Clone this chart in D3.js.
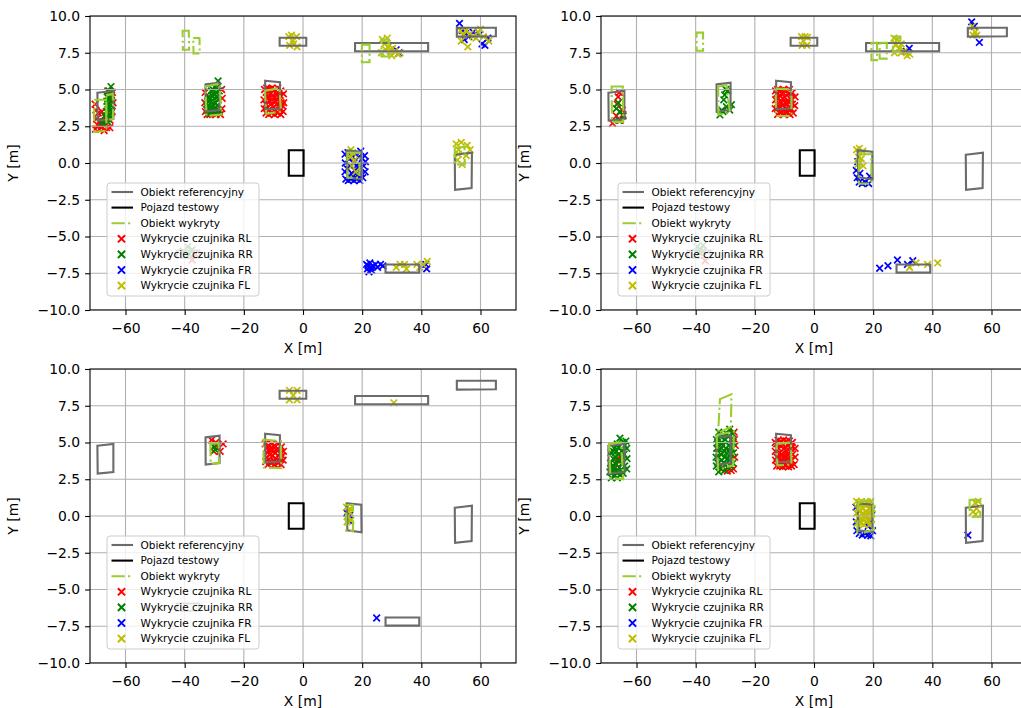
<!DOCTYPE html>
<html>
<head>
<meta charset="utf-8">
<script src="https://cdn.jsdelivr.net/npm/d3@7"></script>
<style>
  body { margin: 0; background: #fff; }
  svg { font-family: "DejaVu Sans", sans-serif; display: block; }
</style>
</head>
<body>
<svg id="chart" width="1021" height="708"></svg>
<script>
// axis ticks
const xTicks = [-60, -40, -20, 0, 20, 40, 60]
const yTicks = [-10, -7.5, -5, -2.5, 0, 2.5, 5, 7.5, 10]
const xDomain = [-72, 72]
const yDomain = [-10, 10]

const sensors = ['RL', 'RR', 'FR', 'FL']
const sensorColors = ['#ff0000', '#008000', '#0000ff', '#bfbf00']

// reference objects (corners in metres)
const refObjects = [
  [[-69.5, 4.78], [-64.1, 4.9], [-64.1, 2.99], [-69.4, 2.88]],
  [[-32.95, 5.35], [-28.2, 5.46], [-28.2, 3.6], [-32.9, 3.5]],
  [[-12.8, 5.6], [-7.8, 5.5], [-7.8, 3.7], [-12.7, 3.65]],
  [[-7.9, 8.52], [1.1, 8.52], [1.1, 7.98], [-7.9, 7.98]],
  [[17.6, 8.16], [42.3, 8.16], [42.3, 7.6], [17.6, 7.6]],
  [[52.0, 9.2], [65.2, 9.2], [65.2, 8.62], [52.0, 8.6]],
  [[14.75, 0.86], [19.7, 0.77], [19.8, -1.11], [15.0, -0.98]],
  [[51.3, 0.56], [57.1, 0.7], [57.0, -1.7], [51.4, -1.82]],
  [[27.9, -6.9], [39.3, -6.9], [39.3, -7.46], [27.9, -7.46]],
  [[-42.7, -5.95], [-35.0, -5.95], [-35.0, -6.45], [-42.7, -6.45]]
]
const vehicle = [[-4.8, 0.87], [0.2, 0.87], [0.2, -0.87], [-4.8, -0.87]]

// which reference objects are visible in each panel
const refsTL = [0, 1, 2, 3, 4, 5, 6, 7, 8, 9]
const refsTR = [0, 1, 2, 3, 4, 5, 6, 7, 8, 9]
const refsBL = [0, 1, 2, 3, 4, 5, 6, 7, 8, 9]
const refsBR = [0, 1, 2, 6, 7]

// detected objects
const detectedTL = [
  [[-70.6, 4.3], [-66.6, 4.3], [-66.4, 2.2], [-70.6, 2.1]],
  [[-66.5, 4.6], [-64.3, 4.7], [-64.2, 3.0], [-66.4, 2.9]],
  [[-33.0, 5.2], [-28.2, 5.4], [-27.6, 3.3], [-32.6, 3.2]],
  [[-12.9, 4.9], [-8.0, 5.1], [-7.4, 3.5], [-12.4, 3.35]],
  [[-40.7, 9.0], [-38.6, 9.0], [-38.5, 7.7], [-40.6, 7.7]],
  [[-37.1, 8.5], [-35.0, 8.5], [-34.9, 7.45], [-37.0, 7.45]],
  [[19.9, 8.05], [22.5, 8.05], [22.5, 6.85], [19.9, 6.85]],
  [[26.5, 8.4], [29.0, 8.4], [29.0, 7.25], [26.5, 7.25]],
  [[15.0, 0.7], [19.1, 0.7], [19.1, -1.0], [15.0, -1.0]],
  [[51.3, 1.0], [54.6, 1.1], [54.7, -0.1], [51.3, -0.1]]
]
const detectedTR = [
  [[-68.4, 5.2], [-64.6, 5.2], [-64.5, 2.8], [-68.3, 2.8]],
  [[-32.4, 5.2], [-29.6, 5.3], [-28.4, 3.4], [-32.3, 3.3]],
  [[-12.9, 5.06], [-7.6, 5.0], [-7.6, 3.2], [-12.9, 3.2]],
  [[-39.7, 8.87], [-37.5, 8.87], [-37.5, 7.64], [-39.7, 7.64]],
  [[19.4, 8.18], [21.3, 8.18], [21.3, 7.0], [19.4, 7.0]],
  [[22.2, 8.18], [24.6, 8.18], [24.6, 7.1], [22.2, 7.1]],
  [[26.7, 8.6], [29.2, 8.6], [29.2, 7.6], [26.7, 7.6]],
  [[15.2, 0.6], [19.4, 0.6], [19.4, -1.4], [15.2, -1.4]]
]
const detectedBL = [
  [[-31.3, 4.9], [-28.5, 4.95], [-28.4, 3.6], [-31.2, 3.55]],
  [[-13.4, 5.2], [-7.5, 5.1], [-7.3, 3.25], [-13.3, 3.3]],
  [[14.6, 0.75], [16.9, 0.75], [16.9, -1.0], [14.6, -1.0]]
]
const detectedBR = [
  [[-69.3, 4.9], [-65.2, 5.0], [-64.5, 2.5], [-68.8, 2.6]],
  [[-31.8, 7.95], [-27.9, 8.28], [-28.1, 6.05], [-32.4, 5.65]],
  [[-32.9, 5.51], [-27.1, 5.74], [-27.3, 3.47], [-32.4, 3.13]],
  [[-12.6, 4.9], [-7.8, 5.0], [-7.6, 3.5], [-12.4, 3.45]],
  [[14.9, 0.86], [19.9, 1.2], [20.3, -0.9], [14.6, -1.3]],
  [[52.6, 1.1], [56.2, 1.1], [56.2, -0.05], [52.6, -0.05]]
]

// sensor detections per panel
const hitsTL = {
  RL: [[-70.2, 2.3], [-69.5, 2.6], [-68.8, 2.3], [-68, 2.5], [-67.2, 2.2], [-66.4, 2.4], [-65.3, 2.4],
    [-69.8, 3.0], [-68.5, 2.9], [-67.5, 2.8], [-66.8, 3.1], [-70.0, 3.6], [-69.2, 3.4], [-65.5, 3.3],
    [-64.5, 3.5], [-64.2, 4.1], [-65.0, 4.4], [-64.4, 4.8], [-66.0, 4.9], [-65.2, 2.9], [-70.3, 4.0], [-68.0, 3.5],
    [-33.2, 4.1], [-33.0, 3.5], [-32.4, 3.3], [-31.5, 3.3], [-30.5, 3.4], [-29.4, 3.3], [-28.3, 3.5],
    [-27.4, 3.7], [-27.3, 4.4], [-27.5, 5.0], [-33.1, 4.8], [-27.9, 3.3],
    [-13.0, 5.0], [-12.3, 5.1], [-11.4, 5.0], [-10.5, 5.1], [-9.5, 5.0], [-8.5, 5.1], [-7.5, 4.9], [-6.6, 4.7],
    [-6.5, 4.1], [-6.7, 3.5], [-7.5, 3.3], [-8.6, 3.4], [-9.6, 3.3], [-10.6, 3.4], [-11.6, 3.3], [-12.5, 3.4],
    [-13.1, 3.7], [-13.2, 4.3], [-12.2, 4.5], [-11.2, 4.2], [-10.2, 4.6], [-9.2, 4.2], [-8.2, 4.5], [-7.4, 4.1],
    [-12.0, 3.8], [-10.0, 3.8], [-8.0, 3.8], [-11.0, 4.7], [-9.0, 4.7],
    [-12.6, 4.0], [-11.6, 3.6], [-10.8, 4.0], [-9.8, 3.6], [-8.8, 4.0], [-7.8, 3.6], [-12.4, 4.8], [-11.5, 4.45],
    [-10.5, 4.3], [-9.6, 4.45], [-8.6, 4.3], [-7.7, 4.6], [-11.8, 5.05], [-7.0, 3.9],
    [-37.5, -6.6], [-36.5, -6.2]],
  RR: [[-66.0, 2.8], [-65.5, 3.2], [-66.5, 3.5], [-65.2, 3.6], [-66.0, 4.0], [-65.0, 4.2], [-66.2, 4.5],
    [-65.5, 4.7], [-64.9, 5.2], [-65.8, 3.0], [-67.0, 3.2], [-67.5, 2.8], [-64.7, 4.6], [-64.6, 3.9], [-68.2, 2.7],
    [-65.8, 3.8], [-65.3, 4.4], [-66.3, 4.2], [-64.9, 3.4], [-65.6, 4.9],
    [-32.4, 3.6], [-31.8, 3.9], [-31.2, 3.6], [-30.5, 4.0], [-29.8, 3.7], [-29.0, 3.9], [-28.4, 3.6], [-31.5, 4.3],
    [-30.8, 4.6], [-30.0, 4.4], [-29.3, 4.8], [-28.6, 4.3], [-29.8, 5.2], [-28.7, 5.58], [-32.0, 4.5], [-30.5, 5.0],
    [-31.3, 3.4], [-29.6, 3.4], [-28.3, 4.9], [-32.6, 4.0],
    [-31.8, 3.4], [-30.8, 3.8], [-29.6, 4.1], [-28.8, 3.5], [-31.0, 4.9], [-29.0, 4.5], [-32.2, 4.2], [-30.3, 4.7], [-29.4, 5.1],
    [-40.5, -6.0], [-39, -5.7], [-38.5, -6.2], [-37.5, -5.9]],
  FR: [[14.2, 0.6], [14.3, 0.0], [14.2, -0.6], [14.5, -1.1], [15.3, -1.2], [16.2, -1.1], [17.2, -1.2], [18.2, -1.1],
    [19.2, -1.2], [20.2, -1.0], [21.0, -0.6], [21.1, 0.1], [20.8, 0.5], [20.0, 0.3], [16.5, -0.7], [17.5, -0.5],
    [18.5, -0.8], [16.0, -0.2], [19.0, -0.3], [17.2, 0.0], [15.2, 0.7], [19.5, 0.8],
    [15.0, -0.4], [15.6, -0.9], [17.0, -0.9], [18.0, -0.2], [19.6, -0.7], [20.5, -0.2], [15.5, 0.3], [18.8, 0.4], [16.8, 0.4],
    [21.5, -6.9], [21.8, -7.2], [22.3, -7.4], [22.6, -6.8], [23.0, -7.1], [23.6, -7.0], [24.5, -6.9], [25.2, -7.1],
    [26.2, -6.9], [27.0, -7.0], [22.0, -7.0], [23.2, -7.3], [41.5, -6.9], [41.8, -7.2],
    [52.9, 9.5], [54.0, 9.0], [55.0, 8.8], [56.0, 8.6], [54.5, 8.4], [60.5, 8.1], [61.5, 8.0], [62.5, 8.5],
    [59.5, 8.7], [57.5, 8.9], [31.5, 7.7], [32.5, 7.5]],
  FL: [[-4.8, 8.6], [-3.9, 8.7], [-2.2, 8.6], [-3.4, 8.3], [-4.5, 8.0], [-2.0, 7.9], [-3.2, 8.1],
    [26.8, 8.4], [27.5, 8.1], [28.0, 7.7], [28.8, 7.9], [29.5, 7.6], [30.3, 7.8], [31.0, 7.6], [32.0, 7.4],
    [32.8, 7.5], [26.5, 7.5], [28.5, 8.5], [30.0, 7.3],
    [53.2, 9.0], [54.2, 8.7], [55.0, 9.0], [56.5, 8.8], [57.5, 8.6], [58.5, 8.5], [59.2, 8.9], [55.7, 7.9],
    [62.8, 8.3], [61.0, 8.6], [53.5, 8.3], [60.0, 9.1],
    [51.8, 1.3], [52.6, 0.9], [53.5, 1.4], [55.5, 1.2], [56.5, 0.9], [52.2, 0.2], [53.8, -0.1], [52.5, 0.6], [55.2, 0.5],
    [16.0, 0.4], [16.8, 0.7], [17.5, 0.2], [16.5, -0.2], [17.8, -0.6], [16.2, 0.9],
    [31.5, -7.1], [32.8, -6.9], [34.3, -6.9], [35.0, -7.2], [38.5, -6.9], [39.5, -7.1], [42.0, -6.7], [40.5, -6.9]]
}
const hitsTR = {
  RL: [[-68.1, 2.7], [-64.8, 3.6], [-66.2, 4.5], [-65.8, 4.8], [-64.6, 3.3], [-66.8, 3.2], [-65.5, 2.9], [-66.5, 4.0],
    [-13.0, 4.9], [-12.3, 5.0], [-11.3, 4.9], [-10.3, 5.0], [-9.3, 4.9], [-8.3, 5.0], [-7.3, 4.8], [-6.4, 4.5],
    [-6.5, 3.9], [-7.0, 3.4], [-8.1, 3.3], [-9.2, 3.4], [-10.2, 3.3], [-11.3, 3.4], [-12.3, 3.3], [-13.1, 3.7],
    [-13.0, 4.3], [-12.0, 4.4], [-11.0, 4.1], [-10.0, 4.5], [-9.0, 4.0], [-8.0, 4.4], [-7.3, 4.0], [-11.5, 3.8],
    [-9.5, 3.7], [-8.5, 3.6], [-10.5, 4.8], [-12.3, 3.7], [-9.8, 4.1],
    [-12.5, 4.0], [-11.5, 3.5], [-10.6, 3.9], [-9.7, 3.5], [-8.8, 4.2], [-7.8, 3.7], [-12.6, 4.7], [-11.6, 4.6],
    [-10.6, 4.4], [-8.6, 4.7], [-7.8, 4.3],
    [-36.8, -6.65], [-37.5, -6.0]],
  RR: [[-66.2, 4.1], [-64.5, 3.2], [-66.8, 3.7], [-65.6, 3.5], [-66.0, 2.9],
    [-30.2, 4.63], [-29.6, 3.83], [-27.9, 3.97], [-31.8, 3.27], [-30.8, 3.5], [-29.2, 4.9], [-30.5, 4.3],
    [-28.5, 3.6], [-31.2, 3.6], [-29.8, 5.0],
    [-39.5, -5.7], [-38.5, -5.9], [-37.5, -5.6], [-38.8, -6.1]],
  FR: [[14.3, -0.5], [14.6, -1.0], [15.3, -1.3], [16.3, -1.4], [17.3, -1.3], [18.5, -1.4], [18.8, -0.9], [15.5, -0.7], [14.8, 0.1],
    [22.2, -7.16], [25.0, -6.99], [28.2, -6.6], [33.4, -6.65], [31.6, -6.9],
    [53.3, 9.6], [55.9, 8.2], [54.2, 9.3], [31.2, 7.6], [32.2, 7.8]],
  FL: [[-4.2, 8.6], [-3.0, 8.6], [-3.6, 8.3], [-4.0, 8.0], [-2.4, 8.0], [-2.2, 8.55],
    [27.0, 8.5], [27.6, 8.0], [28.2, 8.4], [28.9, 7.8], [29.5, 7.5], [30.5, 7.6], [31.5, 7.3], [32.4, 7.4], [27.2, 7.5], [29.5, 8.1],
    [53.5, 9.3], [54.5, 8.9], [55.0, 8.7], [53.8, 8.7],
    [14.4, 0.9], [15.3, 1.0], [16.5, 0.8], [16.0, 0.3], [15.5, 0.0], [16.6, -0.2], [15.1, 0.4], [14.8, -0.1],
    [32.3, -7.1], [34.5, -6.8], [38.4, -6.9], [41.8, -6.8]]
}
const hitsBL = {
  RL: [[-30.9, 5.17], [-29.5, 5.0], [-27.0, 4.9], [-28.0, 4.4], [-30.2, 4.4], [-29.0, 4.8],
    [-12.8, 4.9], [-11.7, 4.8], [-10.6, 4.9], [-9.6, 4.8], [-8.4, 4.9], [-7.3, 4.7], [-6.6, 4.4], [-6.7, 3.8],
    [-7.4, 3.5], [-8.4, 3.6], [-9.6, 3.5], [-10.7, 3.6], [-11.8, 3.5], [-12.6, 3.7], [-11.0, 4.2], [-9.5, 4.3],
    [-8.4, 4.1], [-10.0, 3.8], [-12.0, 4.3], [-7.0, 4.1], [-9.0, 4.5],
    [-12.3, 4.0], [-11.3, 3.7], [-10.3, 4.1], [-9.2, 3.9], [-8.0, 3.8], [-12.2, 4.6], [-11.3, 4.55], [-10.2, 4.55],
    [-8.2, 4.5], [-7.5, 4.3]],
  RR: [[-30.0, 4.7], [-29.6, 4.5]],
  FR: [[15.8, 0.06], [14.8, 0.2], [15.4, -0.3], [24.9, -6.94]],
  FL: [[-4.6, 8.55], [-2.0, 8.55], [-3.3, 8.2], [-4.6, 7.9], [-2.0, 7.9], [30.7, 7.7],
    [14.7, 0.6], [15.8, 0.5], [15.2, 0.0], [16.2, -0.3], [14.9, -0.4], [15.6, 0.3]]
}
const hitsBR = {
  RL: [[-66.5, 3.8], [-67.5, 3.2], [-65.5, 4.1],
    [-27.0, 5.7], [-26.6, 4.8], [-26.8, 4.0], [-27.2, 3.2], [-28.0, 3.1], [-29.3, 3.05], [-32.6, 4.6], [-31.5, 3.2], [-26.9, 5.2],
    [-13.1, 5.0], [-12.2, 5.15], [-11.2, 5.1], [-10.3, 5.17], [-9.3, 5.1], [-8.3, 5.1], [-7.3, 5.0], [-6.4, 4.6],
    [-6.4, 4.0], [-6.7, 3.5], [-7.6, 3.4], [-8.6, 3.35], [-9.6, 3.4], [-10.6, 3.35], [-11.6, 3.4], [-12.6, 3.4],
    [-13.0, 3.8], [-13.1, 4.4], [-12.0, 4.6], [-11.0, 4.2], [-10.0, 4.6], [-9.0, 4.2], [-8.0, 4.6], [-7.2, 4.2],
    [-11.8, 3.9], [-9.5, 3.8], [-8.0, 3.8], [-10.5, 4.0], [-8.7, 4.8],
    [-12.5, 4.0], [-11.4, 3.7], [-10.4, 3.7], [-9.4, 4.0], [-8.4, 3.6], [-7.5, 3.8], [-12.6, 4.9], [-11.5, 4.8],
    [-10.4, 4.85], [-9.6, 4.7], [-7.5, 4.7], [-11.6, 4.3], [-9.3, 4.4]],
  RR: [[-69.0, 3.0], [-68.5, 2.6], [-67.5, 2.7], [-66.5, 2.6], [-65.5, 2.8], [-64.5, 2.9], [-63.3, 3.2], [-63.2, 3.9],
    [-63.3, 4.6], [-63.6, 5.1], [-64.6, 5.0], [-65.6, 5.3], [-66.5, 4.9], [-67.5, 4.6], [-68.6, 4.3], [-68.8, 3.6],
    [-67.8, 3.4], [-66.8, 3.5], [-65.8, 3.3], [-64.8, 3.6], [-67.2, 4.0], [-66.0, 4.2], [-65.0, 4.4], [-64.2, 4.2],
    [-68.0, 3.0], [-66.2, 3.0], [-64.0, 3.4],
    [-67.8, 3.9], [-66.8, 4.4], [-65.8, 3.8], [-64.8, 4.0], [-68.2, 3.4], [-67.0, 3.0], [-65.0, 3.1], [-64.0, 4.8],
    [-66.0, 4.7], [-67.8, 4.4],
    [-33.0, 5.2], [-32.9, 4.6], [-33.1, 4.0], [-33.0, 3.4], [-32.2, 3.0], [-31.2, 3.2], [-30.2, 3.1], [-29.2, 3.3],
    [-28.2, 3.4], [-27.4, 3.6], [-27.2, 4.3], [-27.3, 5.0], [-27.5, 5.6], [-28.5, 5.9], [-29.5, 5.6], [-30.5, 5.5],
    [-31.5, 5.4], [-32.2, 5.7], [-31.8, 4.5], [-30.8, 4.8], [-29.8, 4.6], [-28.8, 4.8], [-28.2, 4.2], [-31.2, 3.8],
    [-30.2, 4.0], [-29.2, 3.9], [-32.2, 4.0], [-28.0, 5.2], [-30.0, 5.2],
    [-32.5, 3.6], [-31.5, 4.2], [-30.5, 3.6], [-29.6, 4.3], [-28.6, 3.8], [-27.8, 4.6], [-31.2, 5.0], [-29.0, 5.4],
    [-32.6, 5.0], [-30.2, 4.4], [-28.2, 4.7]],
  FR: [[14.3, -0.4], [14.5, -1.0], [15.3, -1.2], [16.3, -1.3], [17.3, -1.2], [18.2, -1.3], [19.2, -1.35], [19.8, -1.0],
    [19.0, -0.3], [18.3, -0.7], [14.2, 0.6], [19.5, 0.4], [52.0, -1.3]],
  FL: [[14.4, 1.0], [15.2, 0.9], [16.0, 1.0], [17.0, 0.8], [18.0, 0.9], [19.2, 1.0], [19.7, 0.5], [19.5, -0.2],
    [18.8, -0.6], [17.8, -0.4], [16.8, -0.6], [15.8, -0.5], [14.6, -0.5], [14.4, 0.2], [15.5, 0.3], [16.5, 0.2],
    [17.5, 0.3], [18.5, 0.2], [15.0, -0.1], [16.2, 0.6], [17.3, -0.1], [18.8, 0.5],
    [15.5, -0.3], [16.4, -0.2], [17.5, 0.0], [18.2, -0.3], [19.0, 0.2], [15.8, 0.8], [17.6, 0.7], [18.6, 0.8],
    [14.8, 0.5], [16.8, 0.0],
    [54.5, 0.9], [55.0, 0.5], [53.8, 0.3], [54.6, 0.1], [55.5, 1.0]]
}

const legendLabels = ['Obiekt referencyjny', 'Pojazd testowy', 'Obiekt wykryty',
  'Wykrycie czujnika RL', 'Wykrycie czujnika RR', 'Wykrycie czujnika FR', 'Wykrycie czujnika FL']

const refColor = '#6b6b6b'
const detColor = '#9acd32'
const gridColor = '#b0b0b0'

const panels = [
  { left: 90, top: 16, refs: refsTL, detected: detectedTL, hits: hitsTL },
  { left: 601, top: 16, refs: refsTR, detected: detectedTR, hits: hitsTR },
  { left: 90, top: 369, refs: refsBL, detected: detectedBL, hits: hitsBL },
  { left: 601, top: 369, refs: refsBR, detected: detectedBR, hits: hitsBR }
]

const W = 426, H = 294
const svg = d3.select('#chart')
svg.append('rect').attr('width', 1021).attr('height', 708).attr('fill', '#fff')

const x = d3.scaleLinear().domain(xDomain).range([0, W])
const y = d3.scaleLinear().domain(yDomain).range([H, 0])
const line = d3.line().x(d => x(d[0])).y(d => y(d[1]))
const closed = pts => line(pts) + 'Z'

function cross (sel, r) {
  sel.append('path')
    .attr('d', `M${-r},${-r}L${r},${r}M${-r},${r}L${r},${-r}`)
}

panels.forEach((p, i) => {
  const g = svg.append('g').attr('transform', `translate(${p.left},${p.top})`)

  g.append('clipPath').attr('id', 'clip' + i)
    .append('rect').attr('width', W).attr('height', H)
  const plot = g.append('g').attr('clip-path', `url(#clip${i})`)

  // scatter (drawn first, like matplotlib collections)
  sensors.forEach((s, k) => {
    plot.append('g')
      .selectAll('g')
      .data(p.hits[s])
      .join('g')
      .attr('transform', d => `translate(${x(d[0])},${y(d[1])})`)
      .attr('stroke', sensorColors[k])
      .attr('stroke-width', 1.7)
      .call(cross, 3.3)
  })

  // grid
  plot.append('g').selectAll('line').data(xTicks).join('line')
    .attr('x1', d => x(d)).attr('x2', d => x(d)).attr('y1', 0).attr('y2', H)
    .attr('stroke', gridColor).attr('stroke-width', 1.1)
  plot.append('g').selectAll('line').data(yTicks).join('line')
    .attr('y1', d => y(d)).attr('y2', d => y(d)).attr('x1', 0).attr('x2', W)
    .attr('stroke', gridColor).attr('stroke-width', 1.1)

  // reference objects
  plot.append('g').selectAll('path').data(p.refs.map(k => refObjects[k])).join('path')
    .attr('d', closed)
    .attr('fill', 'none').attr('stroke', refColor).attr('stroke-width', 2.1)

  // test vehicle
  plot.append('path').attr('d', closed(vehicle))
    .attr('fill', 'none').attr('stroke', '#000').attr('stroke-width', 2.1)

  // detected objects
  plot.append('g').selectAll('path').data(p.detected).join('path')
    .attr('d', closed)
    .attr('fill', 'none').attr('stroke', detColor).attr('stroke-width', 2.1)
    .attr('stroke-dasharray', '13.3,3.3,2.1,3.3')

  // axes
  const xAxis = g.append('g').attr('transform', `translate(0,${H})`)
    .call(d3.axisBottom(x).tickValues(xTicks).tickSize(4.9).tickPadding(5).tickFormat(d3.format('d')))
  const yAxis = g.append('g')
    .call(d3.axisLeft(y).tickValues(yTicks).tickSize(4.9).tickPadding(5).tickFormat(d3.format('.1f')))
  ;[xAxis, yAxis].forEach(a => {
    a.select('.domain').remove()
    a.selectAll('line').attr('stroke', '#000').attr('stroke-width', 1.1)
    a.selectAll('text').attr('font-size', 13.9).attr('font-family', 'DejaVu Sans').attr('fill', '#000')
  })
  xAxis.selectAll('text').attr('dy', '0.95em')

  g.append('rect').attr('width', W).attr('height', H)
    .attr('fill', 'none').attr('stroke', '#000').attr('stroke-width', 1.1)

  g.append('text').attr('x', W / 2).attr('y', H + 43)
    .attr('text-anchor', 'middle').attr('font-size', 13.9).text('X [m]')
  g.append('text')
    .attr('transform', `translate(${p.left > 300 ? -72 : -72},${H / 2}) rotate(-90)`)
    .attr('text-anchor', 'middle').attr('font-size', 13.9).text('Y [m]')

  // legend
  const lg = g.append('g').attr('transform', `translate(17,${H - 14 - 113})`)
  lg.append('rect').attr('width', 152).attr('height', 113).attr('rx', 3)
    .attr('fill', '#fff').attr('fill-opacity', 0.8)
    .attr('stroke', '#cccccc').attr('stroke-width', 1)
  legendLabels.forEach((lab, k) => {
    const cy = 9 + k * 15.6
    const row = lg.append('g').attr('transform', `translate(0,${cy})`)
    if (k < 3) {
      row.append('line').attr('x1', 4.5).attr('x2', 26).attr('y1', 0).attr('y2', 0)
        .attr('stroke', [refColor, '#000', detColor][k]).attr('stroke-width', 2.1)
        .attr('stroke-dasharray', k === 2 ? '13.3,3.3,2.1,3.3' : null)
    } else {
      row.append('g').attr('transform', 'translate(14.5,0)')
        .attr('stroke', sensorColors[k - 3]).attr('stroke-width', 2)
        .call(cross, 3.6)
    }
    row.append('text').attr('x', 33.5).attr('y', 0).attr('dy', '0.35em')
      .attr('font-size', 10.5).text(lab)
  })
})
</script>
</body>
</html>
